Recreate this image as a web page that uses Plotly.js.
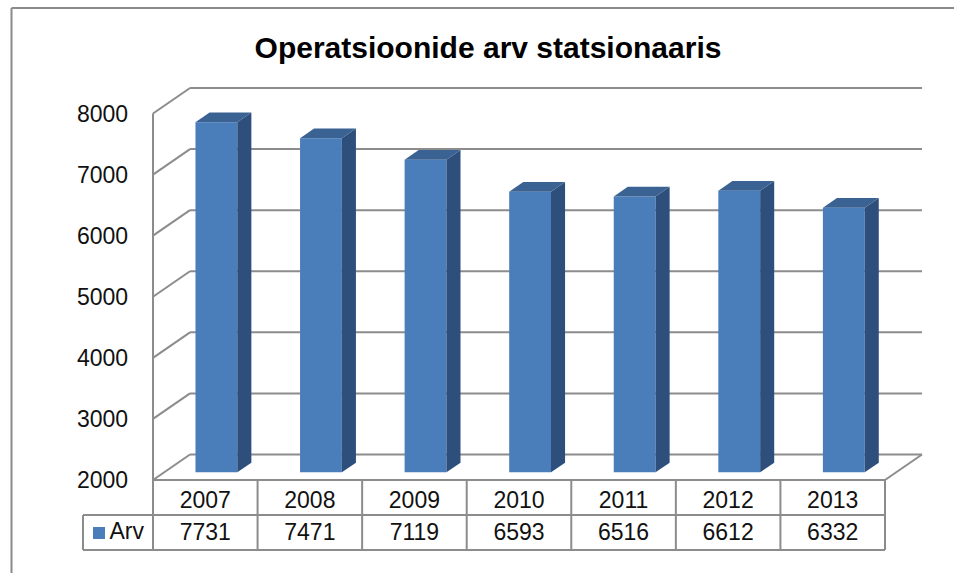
<!DOCTYPE html>
<html><head><meta charset="utf-8">
<script src="https://cdn.plot.ly/plotly-3.0.1.min.js"></script>
<style>html,body{margin:0;padding:0;background:#fff}</style>
</head><body><div id="chart" style="width:954px;height:573px"></div>
<script>
// ---- data ----
const years = ['2007', '2008', '2009', '2010', '2011', '2012', '2013'];
const values = [7731, 7471, 7119, 6593, 6516, 6612, 6332];
const seriesName = 'Arv';
const yTicks = [2000, 3000, 4000, 5000, 6000, 7000, 8000];
const chartTitle = 'Operatsioonide arv statsionaaris';

// ---- geometry (pixels -> data units) ----
const FIG_W = 954, FIG_H = 573;
const PX_CAT = 104.57, PX_VAL = 0.06108;
const X0PX = 153, Y0PX = 480;
const plotL = 74, plotR = 934, plotT = 80, plotB = 560;
const yBase = yTicks[0], yMax = yTicks[yTicks.length - 1];
const nCat = years.length;
const xr = [-0.5 - (X0PX - plotL) / PX_CAT, -0.5 + (plotR - X0PX) / PX_CAT];
const yr = [yBase - (plotB - Y0PX) / PX_VAL, yBase + (Y0PX - plotT) / PX_VAL];
const DX = 37 / PX_CAT, DY = 25.5 / PX_VAL;
const DF = 0.3, DB = 0.68, HW = 0.2;
const P = (x, v, d) => [x + d * DX, v + d * DY];

const GRID = '#8c8c8c';
const FRONT = '#4a7ebb', SIDE = '#2e4f7b', TOPC = '#3a6292';
const FONT = '"Liberation Sans", Arial, sans-serif';

const traces = [];

// walls / gridlines
const gx = [], gy = [];
function seg(a, b) { gx.push(a[0], b[0], null); gy.push(a[1], b[1], null); }
yTicks.forEach(v => {
  seg(P(-0.5, v, 0), P(-0.5, v, 1));
  seg(P(-0.5, v, 1), P(nCat - 0.5, v, 1));
});
seg(P(-0.5, yBase, 0), P(-0.5, yMax, 0));
seg(P(nCat - 0.5, yBase, 0), P(nCat - 0.5, yBase, 1));
traces.push({type: 'scatter', mode: 'lines', x: gx, y: gy, line: {color: GRID, width: 2},
  hoverinfo: 'skip', showlegend: false, connectgaps: false});

// 3D bars
function poly(pts, color) {
  traces.push({type: 'scatter', mode: 'lines', fill: 'toself', fillcolor: color,
    x: pts.map(p => p[0]).concat([pts[0][0]]), y: pts.map(p => p[1]).concat([pts[0][1]]),
    line: {width: 0, color: color}, hoverinfo: 'skip', showlegend: false});
}
values.forEach((v, i) => {
  const l = i - HW, r = i + HW;
  poly([P(l, yBase, DF), P(r, yBase, DF), P(r, v, DF), P(l, v, DF)], FRONT);
  poly([P(r, yBase, DF), P(r, yBase, DB), P(r, v, DB), P(r, v, DF)], SIDE);
  poly([P(l, v, DF), P(r, v, DF), P(r, v, DB), P(l, v, DB)], TOPC);
});

// data table
const rowMid = yBase - 35 / PX_VAL, rowBot = yBase - 70 / PX_VAL;
const colLeft = -0.5 - 70 / PX_CAT;
const tx = [], ty = [];
function tseg(x0, y0, x1, y1) { tx.push(x0, x1, null); ty.push(y0, y1, null); }
tseg(-0.5, yBase, nCat - 0.5, yBase);
tseg(colLeft, rowMid, nCat - 0.5, rowMid);
tseg(colLeft, rowBot, nCat - 0.5, rowBot);
tseg(colLeft, rowMid, colLeft, rowBot);
for (let k = 0; k <= nCat; k++) tseg(-0.5 + k, yBase, -0.5 + k, rowBot);
traces.push({type: 'scatter', mode: 'lines', x: tx, y: ty, line: {color: GRID, width: 2},
  hoverinfo: 'skip', showlegend: false});

const idx = years.map((_, i) => i);
traces.push({type: 'scatter', mode: 'text', x: idx, y: idx.map(() => yBase - 22 / PX_VAL),
  text: years, textposition: 'middle center', textfont: {family: FONT, size: 23, color: '#111'},
  hoverinfo: 'skip', showlegend: false});
traces.push({type: 'scatter', mode: 'text', x: idx, y: idx.map(() => yBase - 54 / PX_VAL),
  text: values.map(String), textposition: 'middle center', textfont: {family: FONT, size: 23, color: '#111'},
  hoverinfo: 'skip', showlegend: false});
traces.push({type: 'scatter', mode: 'markers+text', x: [-0.5 - 54 / PX_CAT], y: [yBase - 53 / PX_VAL],
  text: ['\u200a' + seriesName], textposition: 'middle right',
  marker: {symbol: 'square', size: 12, color: FRONT},
  textfont: {family: FONT, size: 23, color: '#111'}, hoverinfo: 'skip', showlegend: false});

// frame
const pxX = p => (p - plotL) / (plotR - plotL);
const pxY = p => (plotB - p) / (plotB - plotT);
const shapes = [
  {type: 'line', xref: 'paper', yref: 'paper', x0: pxX(11.5), x1: pxX(960), y0: pxY(8), y1: pxY(8), line: {color: '#8a8a8a', width: 2}},
  {type: 'line', xref: 'paper', yref: 'paper', x0: pxX(11.5), x1: pxX(11.5), y0: pxY(8), y1: pxY(580), line: {color: '#8a8a8a', width: 2}}
];

const layout = {
  width: FIG_W, height: FIG_H,
  margin: {l: plotL, r: FIG_W - plotR, t: plotT, b: FIG_H - plotB, pad: 0},
  paper_bgcolor: '#fff', plot_bgcolor: 'rgba(0,0,0,0)',
  showlegend: false,
  title: {text: chartTitle, xref: 'container', yref: 'container', x: 488 / FIG_W, xanchor: 'center',
    y: 1 - 47 / FIG_H, yanchor: 'middle', font: {family: FONT, size: 30, color: '#000', weight: 700}},
  xaxis: {range: xr, showgrid: false, zeroline: false, showline: false, showticklabels: false,
    ticks: '', fixedrange: true},
  yaxis: {range: yr, tickvals: yTicks, ticktext: yTicks.map(String), ticklabelposition: 'inside',
    showgrid: false, zeroline: false, showline: false, ticks: '', automargin: false,
    tickfont: {family: FONT, size: 23, color: '#111'}, fixedrange: true},
  shapes: shapes
};

Plotly.newPlot('chart', traces, layout, {displayModeBar: false, staticPlot: true});
</script>
</body></html>
